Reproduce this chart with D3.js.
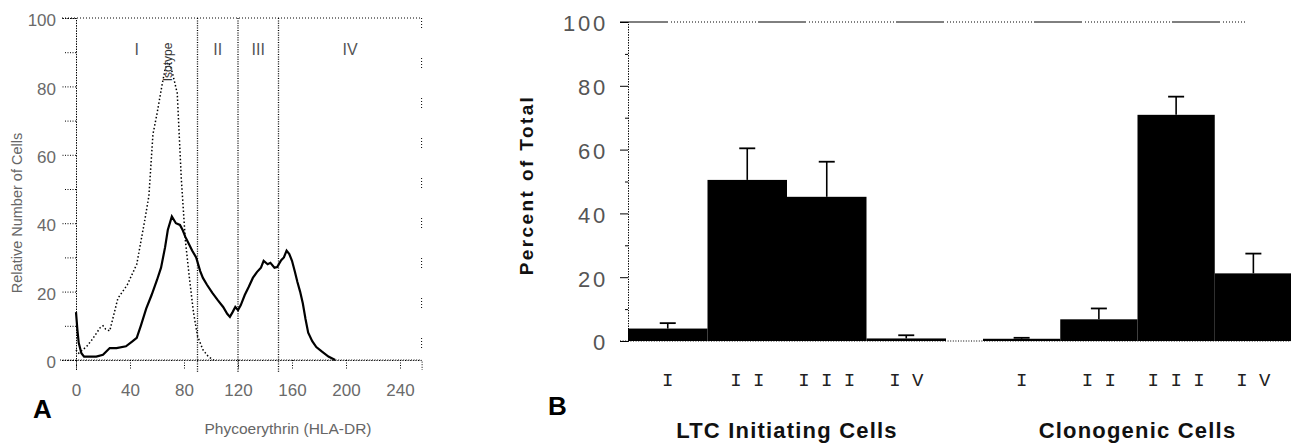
<!DOCTYPE html>
<html>
<head>
<meta charset="utf-8">
<script src="https://cdn.jsdelivr.net/npm/d3@7"></script>
<style>
  body { margin: 0; background: #fff; }
  svg { display: block; }
</style>
</head>
<body>
<script>
// Panel A : histogram of HLA-DR expression (channels 0-256)
const totalX = [0, 1, 2, 4, 6, 10, 15, 20, 25, 30, 37, 42, 45, 48, 52, 56, 60, 63, 66, 68, 71, 74, 77, 79, 81, 84, 86, 89, 92, 94, 97, 101, 105, 109, 112, 114, 116, 118, 120, 122, 125, 128, 131, 134, 137, 139, 142, 144, 147, 149, 152, 154, 156, 158, 160, 162, 164, 166, 168, 170, 172, 175, 178, 182, 187, 192];
const totalY = [14, 9, 5, 2, 1, 1, 1, 1.5, 3.5, 3.5, 4, 5.5, 6.5, 10, 15, 19, 23.4, 27, 33, 38, 42, 40, 39.5, 38, 36, 33.6, 32, 30, 26, 24, 22, 19.6, 17.5, 15.5, 13.5, 12.6, 14, 15.5, 14.6, 16, 19, 21.4, 24, 25.7, 27, 29, 28, 28.4, 27, 27.2, 29.2, 30, 32, 31, 29, 26, 22.8, 20, 16.6, 12, 8, 5.5, 3.8, 2.5, 1, 0];
const isoX = [0, 2, 5, 8, 12, 18, 20, 22, 25, 31, 38, 45, 51, 54, 57, 60, 64, 66, 68, 70, 72, 75, 78, 81, 84, 87, 90, 94, 98, 102];
const isoY = [3, 2, 3, 4, 6, 9.5, 10, 9, 8.5, 18, 22, 28, 41, 48, 66, 72, 81, 85, 87, 86, 83, 78, 53, 35, 24, 14, 7, 3, 1, 0];
const regionBounds = [0, 90, 120, 150, 256];
const regionLabels = ["I", "II", "III", "IV"];
const xTicksA = [0, 40, 80, 120, 160, 200, 240];
const yTicksA = [0, 20, 40, 60, 80, 100];

// Panel B : percent of total per region
const categories = ["I", "II", "III", "IV"];
const ltcValues = [3.9, 50.5, 45.2, 0.8];
const ltcUpper = [5.6, 60.4, 56.2, 1.8];
const cloValues = [0.7, 6.8, 70.9, 21.2];
const cloUpper = [1.0, 10.2, 76.6, 27.4];
const groupLabels = ["LTC Initiating Cells", "Clonogenic Cells"];
const yTicksB = [0, 20, 40, 60, 80, 100];

const W = 1291, H = 444;
const svg = d3.select("body").append("svg")
  .attr("width", W)
  .attr("height", H);

const dotted = "1,1.6";

/* ---------------- Panel A ---------------- */
const xA = d3.scaleLinear().domain([0, 256]).range([76, 421.6]);
const yA = d3.scaleLinear().domain([0, 100]).range([360, 18]);
const gA = svg.append("g");

// frame: top and right sides
gA.append("line")
  .attr("x1", xA(0) - 14).attr("x2", xA(256))
  .attr("y1", yA(100)).attr("y2", yA(100))
  .attr("stroke", "#000").attr("stroke-dasharray", "1,2");
gA.append("line")
  .attr("x1", xA(256)).attr("x2", xA(256))
  .attr("y1", yA(100)).attr("y2", yA(0))
  .attr("stroke", "#000").attr("stroke-dasharray", "1,2,1,2,1,2,1,30");

// y axis
const yAxisA = gA.append("g")
  .attr("transform", `translate(${xA(0)},0)`)
  .call(d3.axisLeft(yA).tickValues(yTicksA).tickSize(14).tickPadding(6));
gA.append("g")
  .attr("transform", `translate(${xA(0)},0)`)
  .call(d3.axisLeft(yA).tickValues(d3.range(10, 100, 20)).tickSize(11).tickFormat(""));

// x axis
const xAxisA = gA.append("g")
  .attr("transform", `translate(0,${yA(0)})`)
  .call(d3.axisBottom(xA).tickValues(xTicksA).tickSize(10).tickPadding(14));
gA.append("line")
  .attr("x1", xA(0) - 16).attr("x2", xA(256))
  .attr("y1", yA(0)).attr("y2", yA(0))
  .attr("stroke", "#000").attr("stroke-dasharray", dotted);

gA.selectAll(".domain").attr("stroke", "#000").attr("stroke-dasharray", dotted);
gA.selectAll(".tick line").attr("stroke", "#000").attr("stroke-dasharray", "1,1.5");
gA.selectAll(".tick text")
  .attr("font-family", "Liberation Sans, Arial, sans-serif")
  .attr("font-size", 17)
  .attr("fill", "#6a6a6a");
yAxisA.selectAll(".tick text").attr("dy", "0.45em");

// region boundaries
gA.selectAll(".region")
  .data(regionBounds.slice(1, 4))
  .enter().append("line")
  .attr("class", "region")
  .attr("x1", d => xA(d)).attr("x2", d => xA(d))
  .attr("y1", yA(100)).attr("y2", yA(0) + 12)
  .attr("stroke", "#000")
  .attr("stroke-width", 1.3)
  .attr("stroke-dasharray", "1,1.4");

gA.selectAll(".region-label")
  .data(regionLabels)
  .enter().append("text")
  .attr("class", "region-label")
  .attr("x", (d, i) => xA((regionBounds[i] + regionBounds[i + 1]) / 2))
  .attr("y", 55)
  .attr("text-anchor", "middle")
  .attr("font-family", "Liberation Sans, Arial, sans-serif")
  .attr("font-size", 16)
  .attr("fill", "#555")
  .text(d => d);

// isotype control (dotted) and total (solid)
const lineA = d3.line()
  .x(d => xA(d[0]))
  .y(d => yA(d[1]));

gA.append("path")
  .datum(isoX.map((x, i) => [x, isoY[i]]))
  .attr("fill", "none")
  .attr("stroke", "#000")
  .attr("stroke-width", 1.5)
  .attr("stroke-dasharray", "1.5,2.2")
  .attr("d", lineA);

gA.append("path")
  .datum(totalX.map((x, i) => [x, totalY[i]]))
  .attr("fill", "none")
  .attr("stroke", "#000")
  .attr("stroke-width", 2.2)
  .attr("stroke-linejoin", "miter")
  .attr("d", lineA);

gA.append("text")
  .attr("transform", `translate(${xA(68) + 4},${62}) rotate(-90)`)
  .attr("text-anchor", "middle")
  .attr("font-family", "Liberation Sans, Arial, sans-serif")
  .attr("font-size", 12)
  .attr("fill", "#333")
  .text("Isotype");

// axis titles
gA.append("text")
  .attr("transform", `translate(22,${213}) rotate(-90)`)
  .attr("text-anchor", "middle")
  .attr("font-family", "Liberation Sans, Arial, sans-serif")
  .attr("font-size", 14.5)
  .attr("fill", "#666")
  .text("Relative Number of Cells");

gA.append("text")
  .attr("x", 288).attr("y", 434)
  .attr("text-anchor", "middle")
  .attr("font-family", "Liberation Sans, Arial, sans-serif")
  .attr("font-size", 15.5)
  .attr("fill", "#666")
  .text("Phycoerythrin (HLA-DR)");

gA.append("text")
  .attr("x", 33).attr("y", 418)
  .attr("font-family", "Liberation Sans, Arial, sans-serif")
  .attr("font-weight", "bold")
  .attr("font-size", 26)
  .attr("fill", "#000")
  .text("A");

/* ---------------- Panel B ---------------- */
const yB = d3.scaleLinear().domain([0, 100]).range([341, 22]);
const xLtc = d3.scaleBand().domain(categories).range([628, 946]).padding(0);
const xClo = d3.scaleBand().domain(categories).range([983, 1292]).padding(0);
const gB = svg.append("g");

// top line and baseline
gB.append("line")
  .attr("x1", 620).attr("x2", 1245)
  .attr("y1", yB(100)).attr("y2", yB(100))
  .attr("stroke", "#000")
  .attr("stroke-dasharray", "48,3,1,2,1,2,1,2,1,2,1,2,1,2,1,2,1,2,1,2,1,2,1,2,1,2,1,2,1,2,1,2,1,2,1,2,1,2,1,2,1,2,1,2,1,2,1,2,1,2,1,2,1,2,1,2,1,2,1,2");
gB.append("line")
  .attr("x1", 620).attr("x2", W)
  .attr("y1", yB(0)).attr("y2", yB(0))
  .attr("stroke", "#000")
  .attr("stroke-dasharray", dotted);

const yAxisB = gB.append("g")
  .attr("transform", "translate(628,0)")
  .call(d3.axisLeft(yB).tickValues(yTicksB).tickSize(8).tickPadding(12));
gB.append("g")
  .attr("transform", "translate(628,0)")
  .call(d3.axisLeft(yB).tickValues(d3.range(10, 100, 20)).tickSize(3).tickFormat(""));
gB.selectAll(".domain").attr("stroke", "#000").attr("stroke-dasharray", dotted);
gB.selectAll(".tick line").attr("stroke", "#000");
yAxisB.selectAll(".tick text")
  .attr("font-family", "Liberation Sans, Arial, sans-serif")
  .attr("font-size", 22)
  .attr("letter-spacing", 2.8)
  .attr("fill", "#555")
  .attr("dy", "0.4em");

gB.append("text")
  .attr("transform", `translate(533,${185}) rotate(-90)`)
  .attr("text-anchor", "middle")
  .attr("font-family", "Liberation Sans, Arial, sans-serif")
  .attr("font-weight", "bold")
  .attr("font-size", 19)
  .attr("letter-spacing", 2.4)
  .attr("fill", "#111")
  .text("Percent of Total");

const groups = [
  { x: xLtc, values: ltcValues, upper: ltcUpper, label: groupLabels[0] },
  { x: xClo, values: cloValues, upper: cloUpper, label: groupLabels[1] }
];

groups.forEach(grp => {
  const g = gB.append("g");

  g.selectAll(".bar")
    .data(categories)
    .enter().append("rect")
    .attr("class", "bar")
    .attr("x", d => grp.x(d))
    .attr("y", (d, i) => yB(grp.values[i]))
    .attr("width", grp.x.bandwidth())
    .attr("height", (d, i) => yB(0) - yB(grp.values[i]))
    .attr("fill", "#000");

  // error bars (upper only)
  const cx = d => grp.x(d) + grp.x.bandwidth() / 2;
  g.selectAll(".err")
    .data(categories)
    .enter().append("line")
    .attr("class", "err")
    .attr("x1", cx).attr("x2", cx)
    .attr("y1", (d, i) => yB(grp.values[i]))
    .attr("y2", (d, i) => yB(grp.upper[i]))
    .attr("stroke", "#000")
    .attr("stroke-width", 1.6);
  g.selectAll(".cap")
    .data(categories)
    .enter().append("line")
    .attr("class", "cap")
    .attr("x1", d => cx(d) - 8).attr("x2", d => cx(d) + 8)
    .attr("y1", (d, i) => yB(grp.upper[i]))
    .attr("y2", (d, i) => yB(grp.upper[i]))
    .attr("stroke", "#000")
    .attr("stroke-width", 1.8);

  g.selectAll(".cat")
    .data(categories)
    .enter().append("text")
    .attr("class", "cat")
    .attr("x", cx)
    .attr("y", 386)
    .attr("text-anchor", "middle")
    .attr("font-family", "Liberation Mono, Courier New, monospace")
    .attr("font-size", 19)
    .attr("fill", "#222")
    .text(d => d.split("").join(" "));

  const [r0, r1] = grp.x.range();
  g.append("text")
    .attr("x", (r0 + r1) / 2)
    .attr("y", 438)
    .attr("text-anchor", "middle")
    .attr("font-family", "Liberation Sans, Arial, sans-serif")
    .attr("font-weight", "bold")
    .attr("font-size", 22)
    .attr("letter-spacing", 1.2)
    .attr("fill", "#111")
    .text(grp.label);
});

gB.append("text")
  .attr("x", 548).attr("y", 415)
  .attr("font-family", "Liberation Sans, Arial, sans-serif")
  .attr("font-weight", "bold")
  .attr("font-size", 26)
  .attr("fill", "#000")
  .text("B");
</script>
</body>
</html>
